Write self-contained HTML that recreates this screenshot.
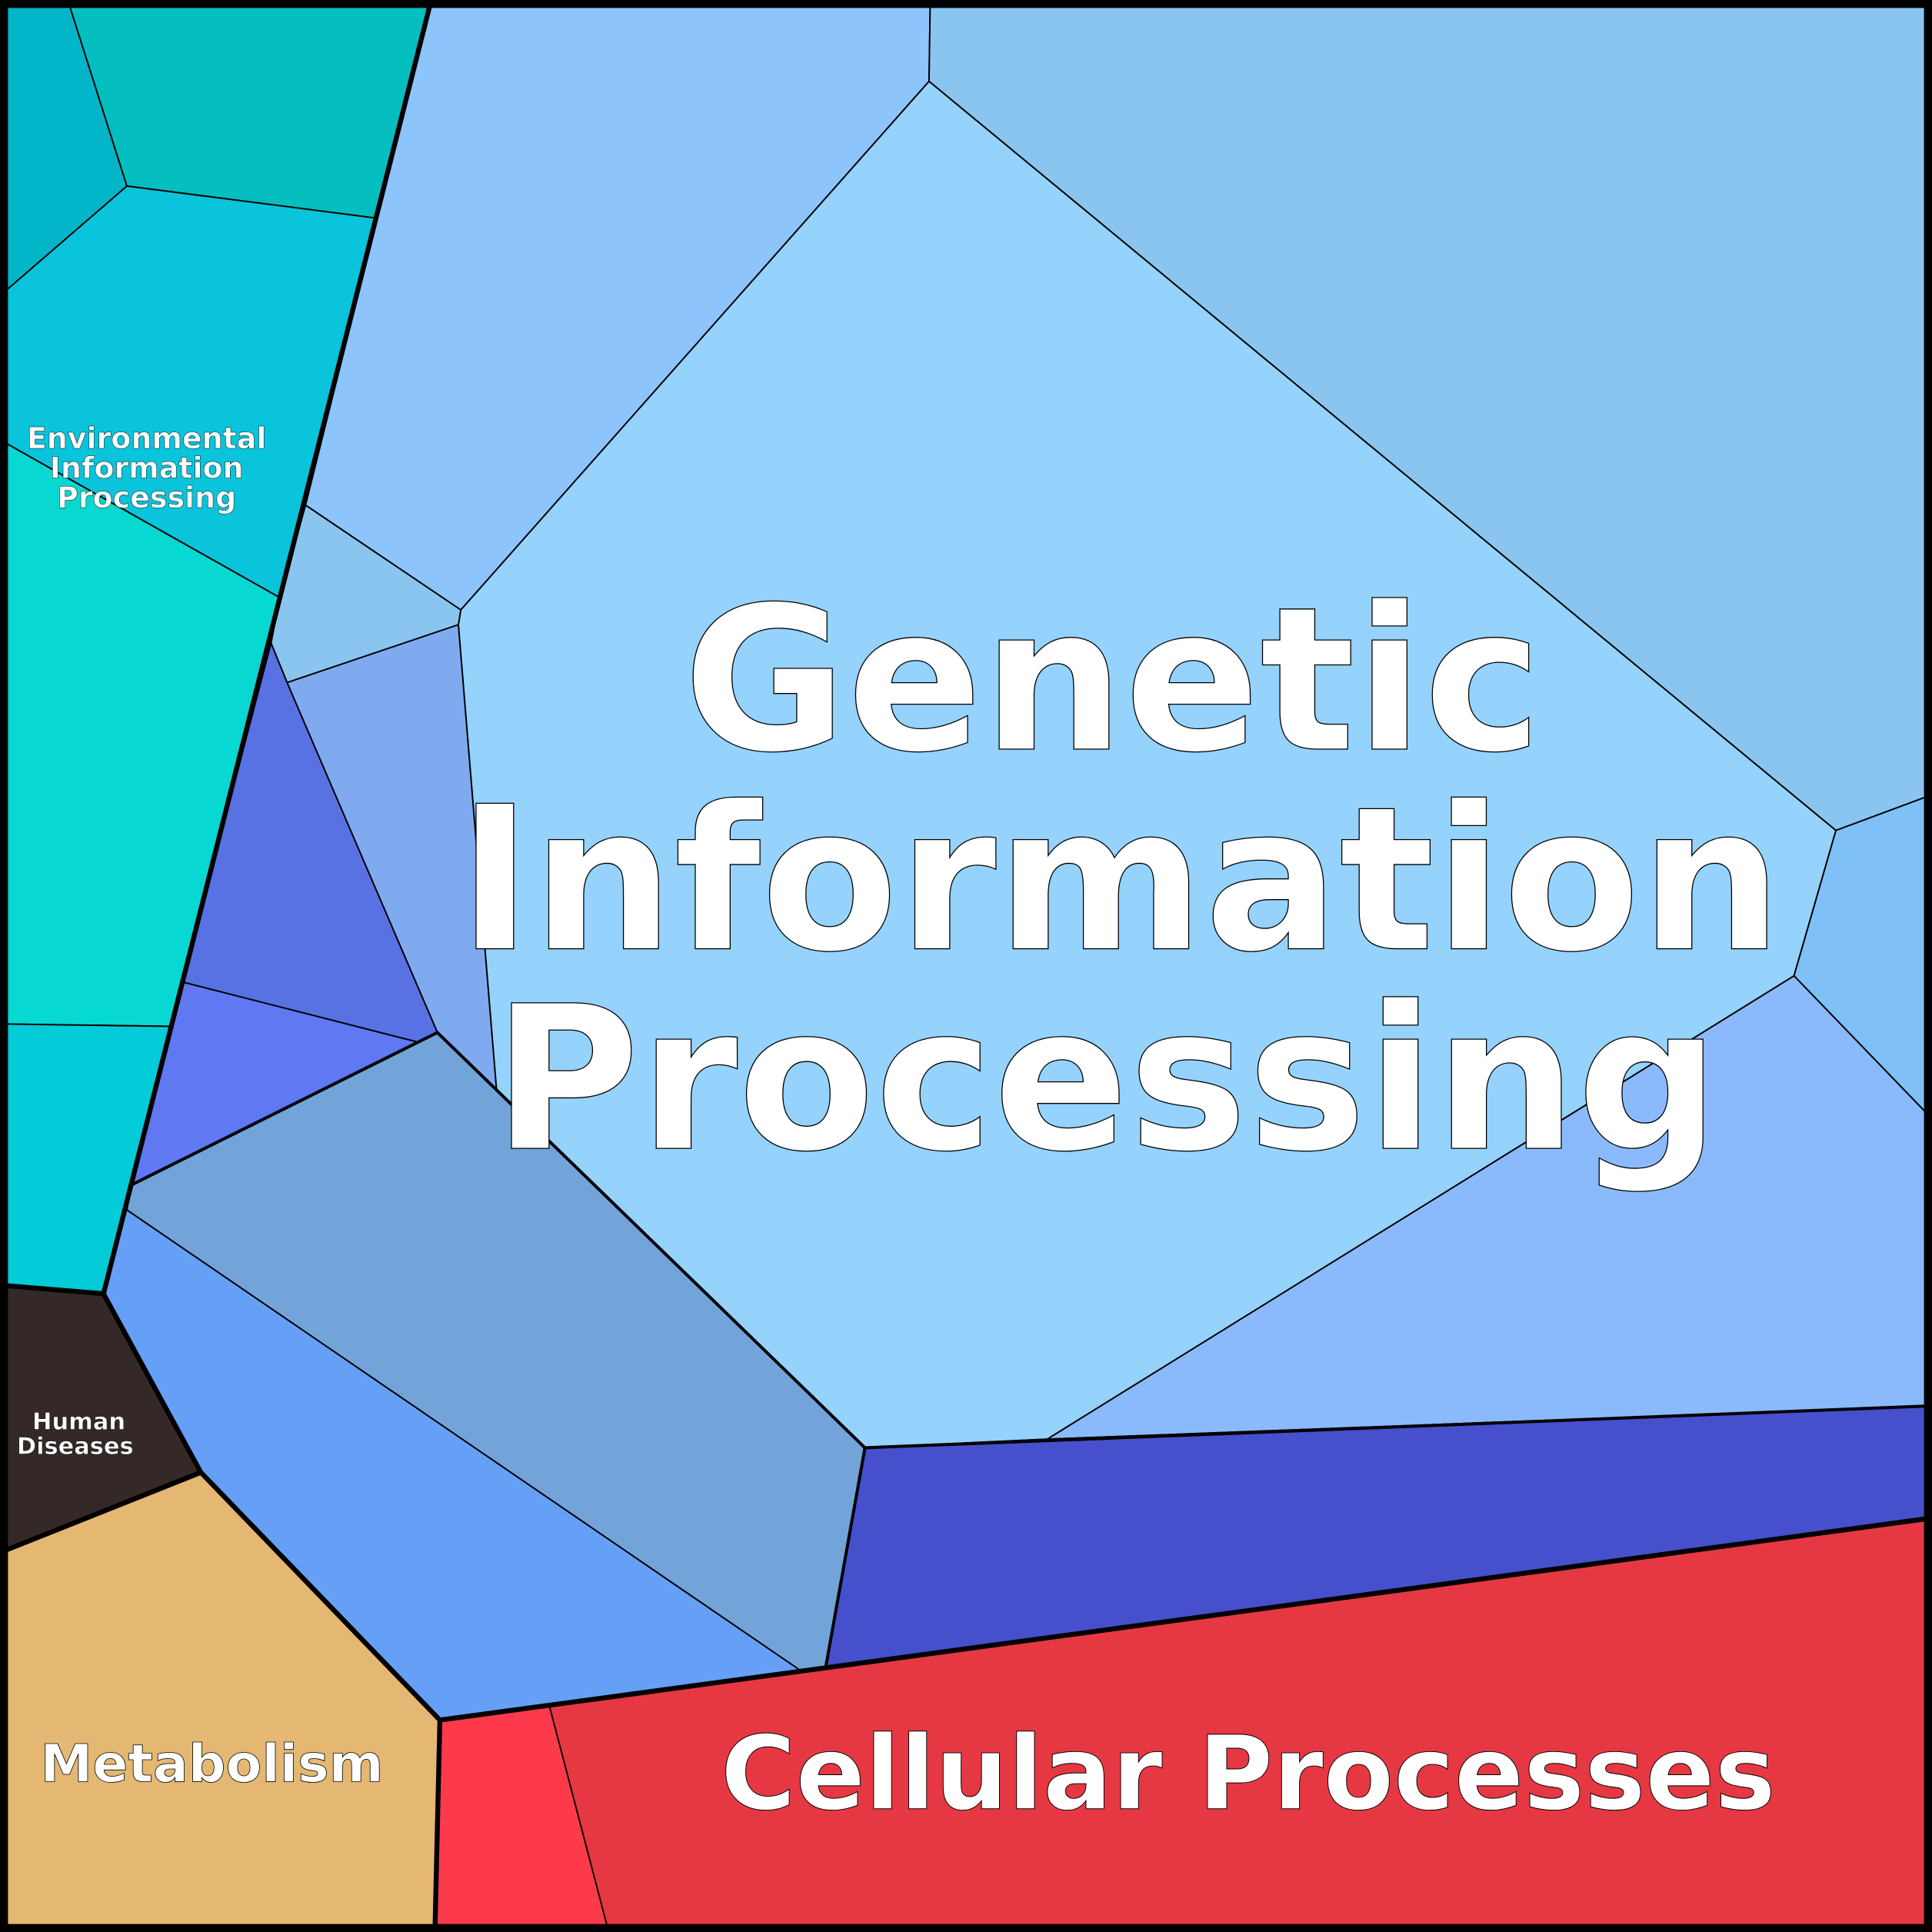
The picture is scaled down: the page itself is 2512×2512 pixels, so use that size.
<!DOCTYPE html>
<html><head><meta charset="utf-8"><style>
html,body{margin:0;padding:0;background:#fff;}
svg{display:block;}
text{font-family:"DejaVu Sans","Liberation Sans",sans-serif;font-weight:bold;fill:#fff;stroke:#000;text-anchor:middle;}
</style></head><body>
<svg width="2512" height="2512" viewBox="0 0 1568 1568" xmlns="http://www.w3.org/2000/svg">
<g stroke="#000" stroke-width="1.2" stroke-linejoin="round">
<polygon points="0,0 55,0 103,151 0,240" fill="#03B5C8"/>
<polygon points="55,0 350,0 305,177 103,151" fill="#05BEC0"/>
<polygon points="0,240 103,151 305,177 227,485 0,357" fill="#09C4DA"/>
<polygon points="0,357 227,485 138,833 0,831" fill="#07D8D1"/>
<polygon points="0,831 138,833 84,1050 0,1043" fill="#03CBD8"/>
<polygon points="0,1043 84,1050 163,1195 0,1260" fill="#352927"/>
<polygon points="0,1260 163,1195 357,1396 353,1568 0,1568" fill="#E4B872"/>
<polygon points="357,1396 1568,1232 1568,1568 353,1568" fill="#E63843"/>
<polygon points="357,1396 446,1385 494,1568 353,1568" fill="#FC3A4C"/>
<polygon points="350,0 755,0 754,66 374,495 248,410" fill="#8DC4FC"/>
<polygon points="755,0 1568,0 1568,645 1490,674 754,66" fill="#8AC5F0"/>
<polygon points="754,66 1490,674 1456,792 850,1168 702,1175 403,885 372,507 374,495" fill="#95D2FC"/>
<polygon points="1490,674 1568,645 1568,908 1456,792" fill="#80C0F8"/>
<polygon points="1456,792 1568,908 1568,1141 850,1168" fill="#8BBAFC"/>
<polygon points="702,1175 850,1168 1568,1141 1568,1232 670,1354" fill="#4650CC"/>
<polygon points="248,410 374,495 372,507 233,554 220,522 227,485" fill="#8AC5F0"/>
<polygon points="233,554 372,507 403,885 355,838" fill="#80AAF0"/>
<polygon points="220,522 233,554 355,838 340,846 148,797" fill="#5872E4"/>
<polygon points="148,797 340,846 355,838 106,962" fill="#6078F2"/>
<polygon points="106,962 355,838 702,1175 670,1354 650,1356 103,982" fill="#72A4DA"/>
<polygon points="103,982 650,1356 357,1396 163,1195 84,1050 106,962" fill="#66A0F6"/>
</g>
<g stroke="#000" fill="none" stroke-width="2.5" stroke-linejoin="round">
<polyline points="106,962 355,838 702,1175 670,1354"/>
<polyline points="702,1175 1568,1141"/>
</g>
<g stroke="#000" fill="none" stroke-width="4" stroke-linejoin="round">
<polyline points="350,0 84,1050 163,1195 357,1396 353,1568"/>
<polyline points="0,1043 84,1050"/>
<polyline points="163,1195 0,1260"/>
<polyline points="357,1396 1568,1232"/>
<rect x="3" y="3" width="1562" height="1562" stroke-width="7"/>
</g>
<text x="903" y="608" font-size="162" stroke-width="0.8">Genetic</text>
<text x="909" y="770" font-size="162" stroke-width="0.8">Information</text>
<text x="898" y="932" font-size="162" stroke-width="0.8">Processing</text>
<text x="1013" y="1468" font-size="83" stroke-width="0.6">Cellular Processes</text>
<text x="172" y="1446" font-size="42.5" stroke-width="0.5">Metabolism</text>
<text x="64" y="1160" font-size="19" stroke-width="0.3">Human</text>
<text x="61" y="1180" font-size="19" stroke-width="0.3">Diseases</text>
<text x="119" y="364" font-size="23.7" stroke-width="0.3">Environmental</text>
<text x="119" y="388" font-size="23.7" stroke-width="0.3">Information</text>
<text x="119" y="412" font-size="23.7" stroke-width="0.3">Processing</text>
</svg>
</body></html>
